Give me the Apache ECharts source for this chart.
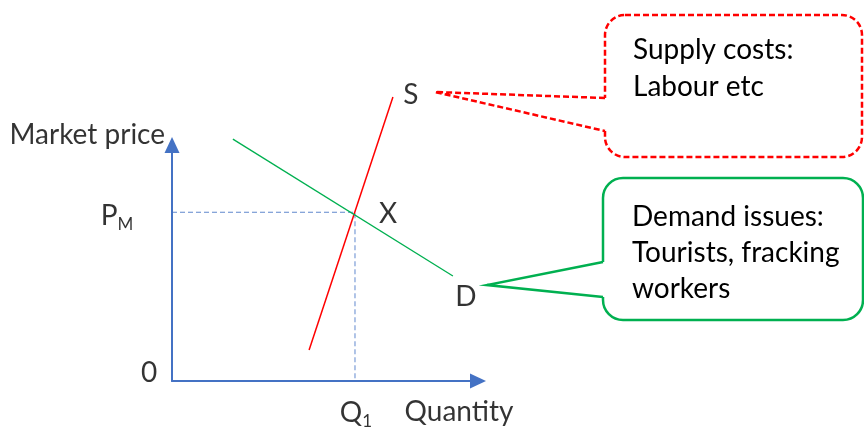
<!DOCTYPE html>
<html>
<head>
<meta charset="utf-8">
<script src="https://cdn.jsdelivr.net/npm/echarts@6/dist/echarts.min.js"></script>
<style>
html,body{margin:0;padding:0;background:#fff;}
#chart{width:864px;height:428px;}
</style>
</head>
<body>
<div id="chart"></div>
<script>
// ---- data ----
const xRange = [0, 10];
const yRange = [0, 10];
const supplyX = [4.48, 7.22];
const supplyY = [1.31, 12.03];
const demandX = [1.99, 9.18];
const demandY = [10.25, 4.45];
const equilibriumX = 5.98;
const equilibriumY = 7.15;
const curveLabels = ['S', 'D', 'X'];
const originLabel = '0';
const priceLabel = ['P', 'M'];
const quantityLabel = ['Q', '1'];
const axisNames = ['Market price', 'Quantity'];
const supplyCallout = ['Supply costs:', 'Labour etc'];
const demandCallout = ['Demand issues:', 'Tourists, fracking', 'workers'];

// ---- styles ----
const FONT = 'Lato';
const FS = 28;
const AXIS_BLUE = '#4472C4';
const RED = '#FF0000';
const GREEN = '#00B050';

const chart = echarts.init(document.getElementById('chart'), null, {renderer: 'canvas'});

function pts(xs, ys) { return xs.map((x, i) => [x, ys[i]]); }

const baseLabel = {
  show: true, position: 'inside', color: '#000',
  fontFamily: FONT, fontSize: FS
};
const richSub = {
  b: {fontFamily: FONT, fontSize: FS, color: '#000', verticalAlign: 'bottom', lineHeight: 30},
  s: {fontFamily: FONT, fontSize: 17, color: '#000', verticalAlign: 'bottom', lineHeight: 30, padding: [0, 0, -3, 0]}
};

const labelItems = [
  {value: [supplyX[1], supplyY[1]], label: {...baseLabel, formatter: curveLabels[0], offset: [18, -2]}},
  {value: [demandX[1], demandY[1]], label: {...baseLabel, formatter: curveLabels[1], offset: [13, 21]}},
  {value: [equilibriumX, equilibriumY], label: {...baseLabel, formatter: curveLabels[2], offset: [33, 2]}},
  {value: [0, 0], label: {...baseLabel, formatter: originLabel, offset: [-23, -8]}},
  {value: [0, equilibriumY], label: {...baseLabel, formatter: '{b|' + priceLabel[0] + '}{s|' + priceLabel[1] + '}', rich: richSub, offset: [-55, 3]}},
  {value: [equilibriumX, 0], label: {...baseLabel, formatter: '{b|' + quantityLabel[0] + '}{s|' + quantityLabel[1] + '}', rich: richSub, offset: [1, 31]}},
  {value: [0, yRange[1]], label: {...baseLabel, formatter: axisNames[0], align: 'right', offset: [-7, -10]}},
  {value: [xRange[1], 0], label: {...baseLabel, formatter: axisNames[1], offset: [-19, 31]}}
];

const axisCommon = {
  type: 'value',
  axisLine: {show: true, symbol: ['none', 'triangle'], symbolSize: [15, 16],
    lineStyle: {color: AXIS_BLUE, width: 2}},
  axisTick: {show: false}, axisLabel: {show: false}, splitLine: {show: false}
};

const calloutText = (lines, x, y0, dy) => lines.map((t, i) => ({
  type: 'text', x: x, y: y0 + i * dy, silent: true, z: 100,
  style: {text: t, fill: '#000', font: FS + 'px ' + FONT, textVerticalAlign: 'middle', textAlign: 'left'}
}));

function callout(box, tip, joinTop, joinBottom, stroke, dash) {
  const lineStyle = {stroke: stroke, lineWidth: 2.5, lineDash: dash, fill: null};
  return [
    {type: 'rect', silent: true, z: 50,
      shape: {x: box[0], y: box[1], width: box[2], height: box[3], r: 20},
      style: {fill: '#fff', stroke: stroke, lineWidth: 2.5, lineDash: dash}},
    {type: 'polygon', silent: true, z: 51,
      shape: {points: [tip, [box[0], joinTop], [box[0] + 4, joinTop], [box[0] + 4, joinBottom], [box[0], joinBottom]]},
      style: {fill: '#fff', stroke: null}},
    {type: 'polyline', silent: true, z: 52,
      shape: {points: [[box[0], joinTop], tip, [box[0], joinBottom]]},
      style: lineStyle}
  ];
}

const option = {
  animation: false,
  backgroundColor: '#fff',
  grid: {left: 172, top: 145, width: 306, height: 236, containLabel: false},
  xAxis: {...axisCommon, min: xRange[0], max: xRange[1]},
  yAxis: {...axisCommon, min: yRange[0], max: yRange[1]},
  series: [
    {type: 'line', data: [[0, equilibriumY], [equilibriumX, equilibriumY], [equilibriumX, 0]],
      symbol: 'none', clip: false, silent: true,
      lineStyle: {color: AXIS_BLUE, width: 1, type: [5, 3], opacity: 0.85}},
    {type: 'line', data: pts(supplyX, supplyY), symbol: 'none', clip: false, silent: true,
      lineStyle: {color: RED, width: 1.5}},
    {type: 'line', data: pts(demandX, demandY), symbol: 'none', clip: false, silent: true,
      lineStyle: {color: GREEN, width: 1.3}},
    {type: 'scatter', data: labelItems, symbolSize: 1, silent: true, clip: false,
      itemStyle: {color: 'rgba(0,0,0,0)'}, z: 5}
  ],
  graphic: [
    ...callout([605, 15, 257, 142], [435, 92], 98, 131, RED, [6, 3]),
    ...callout([603, 178, 260, 142], [487, 285], 262, 297, GREEN, null),
    ...calloutText(supplyCallout, 633, 50, 37),
    ...calloutText(demandCallout, 632, 217, 36)
  ]
};
chart.setOption(option);
</script>
</body>
</html>
